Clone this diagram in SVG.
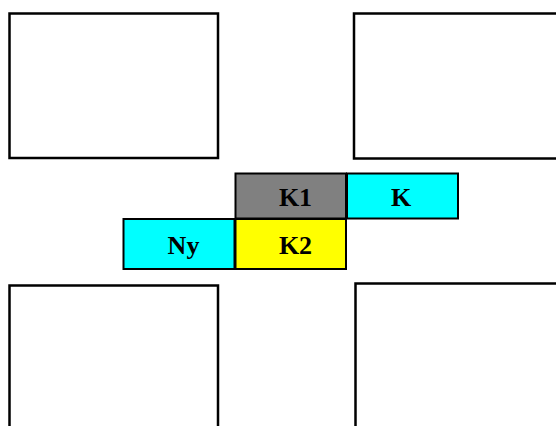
<svg xmlns="http://www.w3.org/2000/svg" width="556" height="426" viewBox="0 0 556 426">
<style>
.frame{fill:#fff;stroke:#000;stroke-width:2.5}
.cell{stroke:#000;stroke-width:2}
.lbl{font-family:"Liberation Serif","Times New Roman",serif;font-weight:bold;font-size:26px;text-anchor:middle;fill:#000}
</style>
<rect width="556" height="426" fill="#fff"/>
<g id="box-top-left"><rect class="frame" x="9.5" y="13.5" width="208.5" height="144.5"/></g>
<g id="box-top-right"><rect class="frame" x="354" y="13.5" width="210" height="145"/></g>
<g id="box-bottom-left"><rect class="frame" x="9.5" y="285.5" width="208.5" height="150"/></g>
<g id="box-bottom-right"><rect class="frame" x="355.5" y="283.5" width="210" height="150"/></g>
<g id="K1"><rect class="cell" x="235.5" y="173.5" width="110.5" height="45" fill="#808080"/><text class="lbl" x="295.5" y="206">K1</text></g>
<g id="K"><rect class="cell" x="347" y="173.5" width="111" height="45" fill="#00ffff"/><text class="lbl" x="401" y="206">K</text></g>
<g id="Ny"><rect class="cell" x="123.5" y="219" width="111" height="50" fill="#00ffff"/><text class="lbl" x="183.5" y="254">Ny</text></g>
<g id="K2"><rect class="cell" x="235.5" y="219" width="110.5" height="50" fill="#ffff00"/><text class="lbl" x="295.5" y="254">K2</text></g>
<g id="connectors"></g>
</svg>
